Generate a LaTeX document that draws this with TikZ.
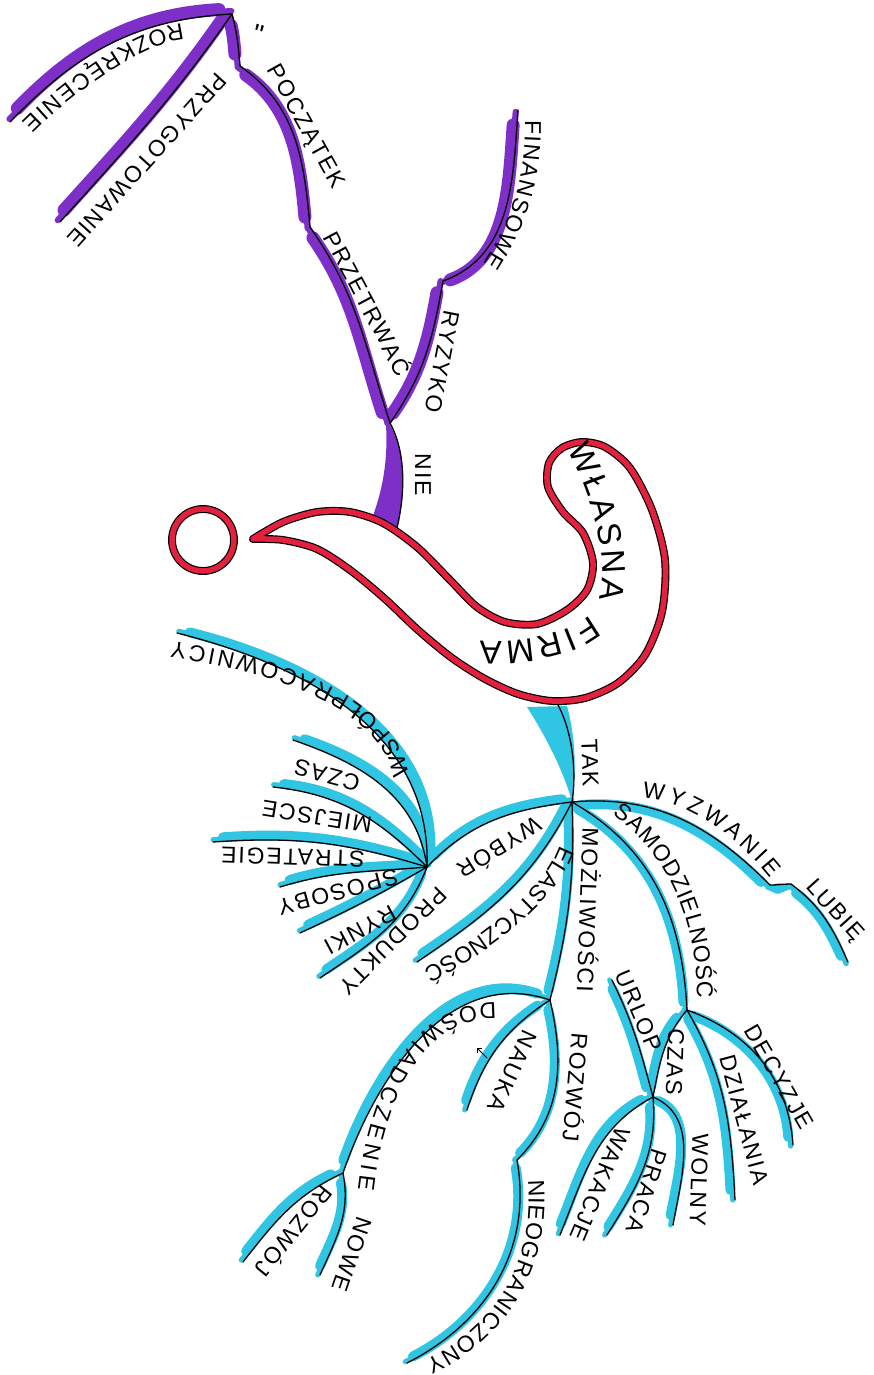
\documentclass[tikz,border=0pt]{standalone}
\usepackage{fontspec}
\newfontfamily\handfont{Liberation Sans}[LetterSpace=8]
\usetikzlibrary{arrows.meta,decorations.text}
\definecolor{penviolet}{HTML}{7E2FC7}
\definecolor{pencyan}{HTML}{30C5E3}
\definecolor{penred}{HTML}{E3203E}

\begin{document}
\begin{tikzpicture}[x=1pt,y=1pt,
 ink/.style={draw=black,line width=1.3pt,line cap=round},
 pband/.style={draw=penviolet,line width=13pt,line cap=round,shorten <=12pt,shorten >=12pt},
 pthin/.style={draw=penviolet,line width=6pt,line cap=round},
 cband/.style={draw=pencyan,line width=10pt,line cap=round,shorten <=10pt,shorten >=10pt},
 cthin/.style={draw=pencyan,line width=5pt,line cap=round},
 redline/.style={draw=black,line width=1.2pt,double=penred,double distance=5.5pt,line join=round},
 lbl/.style={font=\fontsize{23}{23}\selectfont\handfont,inner sep=0pt},
 curved/.style={decorate,decoration={text along path,text align={fit to path},text={|\fontsize{23}{23}\handfont|#1}}},
 bigcurved/.style={decorate,decoration={text along path,text align={fit to path},text={|\fontsize{33}{33}\handfont|#1}}}]
\useasboundingbox (0,0) rectangle (874,-1375);

\coordinate (top) at (232,-14);
\coordinate (rozk) at (10,-122);
\coordinate (przyg) at (60,-222);
\coordinate (kink) at (240,-66);
\coordinate (pocz) at (310,-227);
\coordinate (przetr) at (390,-423);
\coordinate (ryz) at (443,-281);
\coordinate (fin) at (518,-110);
\coordinate (nieend) at (397,-528);
\coordinate (stemtop) at (557,-703);
\coordinate (tak) at (572,-802);
\coordinate (wyb) at (427,-867);
\coordinate (wsp) at (177,-633);
\coordinate (czasa) at (293,-740);
\coordinate (miej) at (273,-787);
\coordinate (strat) at (213,-842);
\coordinate (spos) at (280,-887);
\coordinate (rynk) at (300,-933);
\coordinate (prod) at (320,-978);
\coordinate (elast) at (417,-962);
\coordinate (j2) at (550,-1000);
\coordinate (j3) at (687,-1010);
\coordinate (stepa) at (770,-885);
\coordinate (stepb) at (791,-884);
\coordinate (lub) at (848,-962);
\coordinate (j4) at (343,-1173);
\coordinate (nauka) at (467,-1110);
\coordinate (j5) at (517,-1160);
\coordinate (niog) at (407,-1363);
\coordinate (rozw) at (243,-1262);
\coordinate (nowe) at (320,-1275);
\coordinate (dec) at (793,-1145);
\coordinate (dzia) at (735,-1200);
\coordinate (j6) at (653,-1097);
\coordinate (url) at (612,-980);
\coordinate (wak) at (560,-1235);
\coordinate (praca) at (607,-1235);
\coordinate (woln) at (673,-1225);
\coordinate (ara) at (487,-1058);
\coordinate (arb) at (477,-1048);

\def\violetlimbs{top/rozk/183/46/-1/5, top/przyg/235/48/-4/3, top/kink/-75/95/-4/0, kink/pocz/-35/95/-4/-2, pocz/przetr/-55/108/-4/-1, przetr/ryz/55/-100/-4/0, ryz/fin/20/-94/-4/-3}
\def\cyanlimbs{tak/stepa/5/135/-2/-4, stepa/stepb/0/180/-2/-4, stepb/lub/-37/114/-3/-3, tak/j3/-30/93/-3/-2, tak/j2/-88/76/-4/0, tak/elast/-117/34/-3/3, wyb/tak/46/187/0/4, wsp/wyb/-14/88/3/3, czasa/wyb/-19/98/2/4, miej/wyb/-6/135/1/4, strat/wyb/4/163/0/4, spos/wyb/17/185/0/4, rynk/wyb/25/210/-1/4, prod/wyb/34/249/-2/3, j2/j4/161/71/-3/3, j2/nauka/213/72/-4/0, j2/j5/-77/45/-4/0, j5/niog/-80/27/-3/2, j4/rozw/205/52/-3/3, j4/nowe/-79/66/-4/0, j3/dec/-20/94/-4/-2, j3/dzia/-60/93/-4/0, j3/j6/230/79/-4/0, url/j6/-64/105/-4/0, j6/wak/208/68/-3/2, j6/praca/-85/58/-4/0, j6/woln/-23/80/-4/0}

\foreach \a/\b/\o/\i/\dx/\dy [evaluate=\dx as \hx using 0.6*\dx, evaluate=\dy as \hy using 0.6*\dy] in \violetlimbs {
 \draw[pthin,transform canvas={shift={(\hx pt,\hy pt)}}] (\a) to[out=\o,in=\i] (\b);
 \draw[pband,transform canvas={shift={(\dx pt,\dy pt)}}] (\a) to[out=\o,in=\i] (\b);}
\foreach \a/\b/\o/\i/\dx/\dy [evaluate=\dx as \hx using 0.6*\dx, evaluate=\dy as \hy using 0.6*\dy] in \cyanlimbs {
 \draw[cthin,transform canvas={shift={(\hx pt,\hy pt)}}] (\a) to[out=\o,in=\i] (\b);
 \draw[cband,transform canvas={shift={(\dx pt,\dy pt)}}] (\a) to[out=\o,in=\i] (\b);}
\fill[penviolet] (389,-423) .. controls (405,-450) and (406,-490) .. (nieend) -- (371,-521) .. controls (383,-490) and (388,-460) .. (386,-425) -- cycle;
\fill[pencyan] (527,-707) .. controls (548,-740) and (565,-775) .. (tak) .. controls (577,-770) and (575,-735) .. (567,-706) -- cycle;
\foreach \a/\b/\o/\i/\dx/\dy in \violetlimbs
 \draw[ink] (\a) to[out=\o,in=\i] (\b);
\foreach \a/\b/\o/\i/\dx/\dy in \cyanlimbs
 \draw[ink] (\a) to[out=\o,in=\i] (\b);
\draw[ink] (przetr) .. controls (405,-450) and (406,-490) .. (nieend);
\draw[ink] (stemtop) .. controls (572,-730) and (577,-770) .. (tak);
\draw[ink,line width=0.8pt,-{Straight Barb[length=3pt]}] (ara) -- (arb);

\draw[redline,fill=white] plot[smooth] coordinates {(253,-539) (283,-522) (317,-512) (350,-512) (383,-523) (417,-547) (450,-580) (477,-607) (505,-622) (537,-624) (567,-610) (587,-590) (593,-563) (583,-533) (563,-512) (548,-487) (549,-463) (562,-448) (582,-442) (605,-447) (630,-468) (652,-510) (665,-560) (662,-612) (645,-655) (618,-683) (585,-698) (552,-701) (518,-694) (485,-679) (452,-658) (418,-630) (384,-598) (350,-570) (317,-549) (283,-540) (253,-539)} -- cycle;
\node[redline,circle,minimum size=62pt,inner sep=0pt] (dot) at (203,-540) {};

\path[bigcurved={WŁASNA FIRMA}] (567,-450) .. controls (590,-490) and (612,-560) .. (598,-603) .. controls (590,-628) and (530,-645) .. (480,-641);
\path[curved=ROZKRĘCENIE] (182,-24) .. controls (132,-27) and (50,-93) .. (22,-122);
\path[curved=FINANSOWE] (525,-120) .. controls (526,-170) and (515,-215) .. (484,-264);
\path[curved=WYZWANIE] (642,-798) .. controls (690,-800) and (740,-840) .. (770,-878);
\path[curved=SAMODZIELNOŚĆ] (612,-815) .. controls (660,-845) and (697,-910) .. (697,-998);
\path[curved=ELASTYCZNOŚĆ] (560,-845) .. controls (545,-890) and (480,-940) .. (423,-969);
\path[curved=WSPÓŁPRACOWNICY] (408,-775) .. controls (400,-700) and (280,-655) .. (172,-642);
\path[curved=DOŚWIADCZENIE] (496,-1003) .. controls (420,-1000) and (370,-1080) .. (358,-1190);
\path[curved=NIEOGRANICZONY] (528,-1180) .. controls (535,-1270) and (490,-1330) .. (425,-1360);

\node[lbl,rotate=228] (przygl) at (147,-160) {PRZYGOTOWANIE};
\node[lbl,rotate=-15,font=\fontsize{28}{28}\selectfont\handfont] (ditto) at (258,-34) {"};
\node[lbl,rotate=-61] (poczl) at (305,-127) {POCZĄTEK};
\node[lbl,rotate=-62] (przetrl) at (369,-303) {PRZETRWAĆ};
\node[lbl,rotate=-101] (ryzl) at (442,-362) {RYZYKO};
\node[lbl,rotate=-90] (niel) at (423,-475) {NIE};
\node[lbl,rotate=-88] (takl) at (590,-763) {TAK};
\node[lbl,rotate=-48] (lubl) at (834,-911) {LUBIĘ};
\node[lbl,rotate=-92] (mozl) at (590,-910) {MOŻLIWOŚCI};
\node[lbl,rotate=212] (wybl) at (500,-849) {WYBÓR};
\node[lbl,rotate=165] (czasl) at (327,-775) {CZAS};
\node[lbl,rotate=171] (miejl) at (317,-817) {MIEJSCE};
\node[lbl,rotate=178] (stratl) at (293,-857) {STRATEGIE};
\node[lbl,rotate=195] (sposl) at (338,-892) {SPOSOBY};
\node[lbl,rotate=208] (rynkl) at (360,-930) {RYNKI};
\node[lbl,rotate=225] (prodl) at (393,-941) {PRODUKTY};
\node[lbl,rotate=245] (naukl) at (512,-1071) {NAUKA};
\node[lbl,rotate=-95] (rozwl) at (577,-1088) {ROZWÓJ};
\node[lbl,rotate=231] (rozw2l) at (295,-1232) {ROZWÓJ};
\node[lbl,rotate=251] (nowel) at (352,-1254) {NOWE};
\node[lbl,rotate=-60] (decl) at (779,-1077) {DECYZJE};
\node[lbl,rotate=-75] (dzial) at (744,-1120) {DZIAŁANIA};
\node[lbl,rotate=-92] (czasr) at (675,-1062) {CZAS};
\node[lbl,rotate=-67] (urll) at (639,-1011) {URLOP};
\node[lbl,rotate=-113] (wakl) at (600,-1184) {WAKACJE};
\node[lbl,rotate=-108] (pracl) at (647,-1191) {PRACA};
\node[lbl,rotate=-92] (wolnl) at (699,-1180) {WOLNY};
\end{tikzpicture}
\end{document}
